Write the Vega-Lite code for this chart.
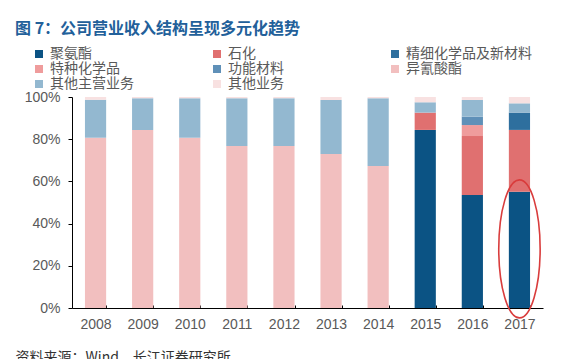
{
  "$schema": "https://vega.github.io/schema/vega-lite/v6.json",
  "width": 471,
  "height": 211,
  "autosize": {"type": "none"},
  "padding": {"left": 72, "top": 97, "right": 21, "bottom": 51},
  "background": "white",
  "config": {
    "view": {"stroke": null},
    "font": "Liberation Sans, Noto Sans CJK SC"
  },
  "title": {
    "text": "图 7：公司营业收入结构呈现多元化趋势",
    "anchor": "start",
    "frame": "group",
    "orient": "top",
    "dx": -57,
    "offset": 10,
    "font": "Noto Sans CJK SC",
    "fontSize": 16,
    "fontWeight": "bold",
    "color": "#22609a"
  },
  "datasets": {
    "bars": [
      {"year": "2008", "cat": "异氰酸酯", "k": 6, "v": 80.7},
      {"year": "2008", "cat": "其他主营业务", "k": 7, "v": 18.0},
      {"year": "2008", "cat": "其他业务", "k": 8, "v": 1.3},
      {"year": "2009", "cat": "异氰酸酯", "k": 6, "v": 84.4},
      {"year": "2009", "cat": "其他主营业务", "k": 7, "v": 15.0},
      {"year": "2009", "cat": "其他业务", "k": 8, "v": 0.6},
      {"year": "2010", "cat": "异氰酸酯", "k": 6, "v": 80.7},
      {"year": "2010", "cat": "其他主营业务", "k": 7, "v": 18.7},
      {"year": "2010", "cat": "其他业务", "k": 8, "v": 0.6},
      {"year": "2011", "cat": "异氰酸酯", "k": 6, "v": 76.8},
      {"year": "2011", "cat": "其他主营业务", "k": 7, "v": 22.6},
      {"year": "2011", "cat": "其他业务", "k": 8, "v": 0.6},
      {"year": "2012", "cat": "异氰酸酯", "k": 6, "v": 76.8},
      {"year": "2012", "cat": "其他主营业务", "k": 7, "v": 22.6},
      {"year": "2012", "cat": "其他业务", "k": 8, "v": 0.6},
      {"year": "2013", "cat": "异氰酸酯", "k": 6, "v": 73.0},
      {"year": "2013", "cat": "其他主营业务", "k": 7, "v": 25.6},
      {"year": "2013", "cat": "其他业务", "k": 8, "v": 1.4},
      {"year": "2014", "cat": "异氰酸酯", "k": 6, "v": 67.3},
      {"year": "2014", "cat": "其他主营业务", "k": 7, "v": 32.1},
      {"year": "2014", "cat": "其他业务", "k": 8, "v": 0.6},
      {"year": "2015", "cat": "聚氨酯", "k": 1, "v": 84.4},
      {"year": "2015", "cat": "石化", "k": 2, "v": 8.2},
      {"year": "2015", "cat": "其他主营业务", "k": 7, "v": 4.9},
      {"year": "2015", "cat": "其他业务", "k": 8, "v": 2.5},
      {"year": "2016", "cat": "聚氨酯", "k": 1, "v": 53.6},
      {"year": "2016", "cat": "石化", "k": 2, "v": 27.9},
      {"year": "2016", "cat": "特种化学品", "k": 4, "v": 5.2},
      {"year": "2016", "cat": "功能材料", "k": 5, "v": 4.0},
      {"year": "2016", "cat": "其他主营业务", "k": 7, "v": 7.9},
      {"year": "2016", "cat": "其他业务", "k": 8, "v": 1.4},
      {"year": "2017", "cat": "聚氨酯", "k": 1, "v": 55.1},
      {"year": "2017", "cat": "石化", "k": 2, "v": 29.3},
      {"year": "2017", "cat": "精细化学品及新材料", "k": 3, "v": 8.2},
      {"year": "2017", "cat": "其他主营业务", "k": 7, "v": 4.4},
      {"year": "2017", "cat": "其他业务", "k": 8, "v": 3.0}
    ]
  },
  "layer": [
    {
      "data": {"name": "bars"},
      "mark": {"type": "bar"},
      "encoding": {
        "x": {
          "field": "year",
          "type": "ordinal",
          "scale": {"paddingInner": 0.55, "paddingOuter": 0.275},
          "axis": {
            "title": "资料来源：Wind，长江证券研究所",
            "titleX": -57,
            "titleY": 42,
            "titleAlign": "left",
            "titleAnchor": "start",
            "titleBaseline": "top",
            "titleFont": "Noto Sans CJK SC",
            "titleFontSize": 14,
            "titleFontWeight": "normal",
            "titleColor": "#333333",
            "labelAngle": 0,
            "labelFontSize": 14,
            "labelColor": "#595959",
            "labelPadding": 12,
            "domainColor": "#000000",
            "domainWidth": 1,
            "tickBand": "extent",
            "tickSize": -3,
            "tickColor": "#000000"
          }
        },
        "y": {
          "field": "v",
          "type": "quantitative",
          "stack": "zero",
          "scale": {"domain": [0, 100], "nice": false},
          "axis": {
            "title": null,
            "values": [0, 20, 40, 60, 80, 100],
            "labelExpr": "datum.value + '%'",
            "grid": false,
            "labelFontSize": 14,
            "labelColor": "#595959",
            "labelPadding": 8,
            "tickSize": 4,
            "tickColor": "#000000",
            "domainColor": "#000000"
          }
        },
        "order": {"field": "k", "type": "quantitative", "sort": "ascending"},
        "color": {
          "field": "cat",
          "type": "nominal",
          "scale": {
            "domain": ["聚氨酯", "石化", "精细化学品及新材料", "特种化学品", "功能材料", "异氰酸酯", "其他主营业务", "其他业务"],
            "range": ["#0b5384", "#e07070", "#2e6f9e", "#ef9c9c", "#5f90b8", "#f2bfbf", "#93b8d0", "#f8e1e1"]
          },
          "legend": {
            "title": null,
            "orient": "none",
            "direction": "horizontal",
            "legendX": -40,
            "legendY": -50,
            "columns": 3,
            "gridAlign": "all",
            "columnPadding": 34,
            "rowPadding": 1,
            "symbolType": "square",
            "symbolSize": 64,
            "symbolStrokeWidth": 0,
            "labelFont": "Noto Sans CJK SC",
            "labelFontSize": 14,
            "labelColor": "#595959",
            "labelOffset": 4,
            "labelLimit": 300
          }
        }
      }
    },
    {
      "data": {"values": [{}]},
      "mark": {
        "type": "point",
        "shape": "M0,-1 A0.3,1 0 1,1 0,1 A0.3,1 0 1,1 0,-1 Z",
        "filled": false,
        "stroke": "#d93c3c",
        "strokeWidth": 1.6,
        "opacity": 1,
        "size": 19044
      },
      "encoding": {
        "x": {"datum": "2017", "type": "ordinal"},
        "y": {"datum": 28, "type": "quantitative"}
      }
    }
  ]
}
